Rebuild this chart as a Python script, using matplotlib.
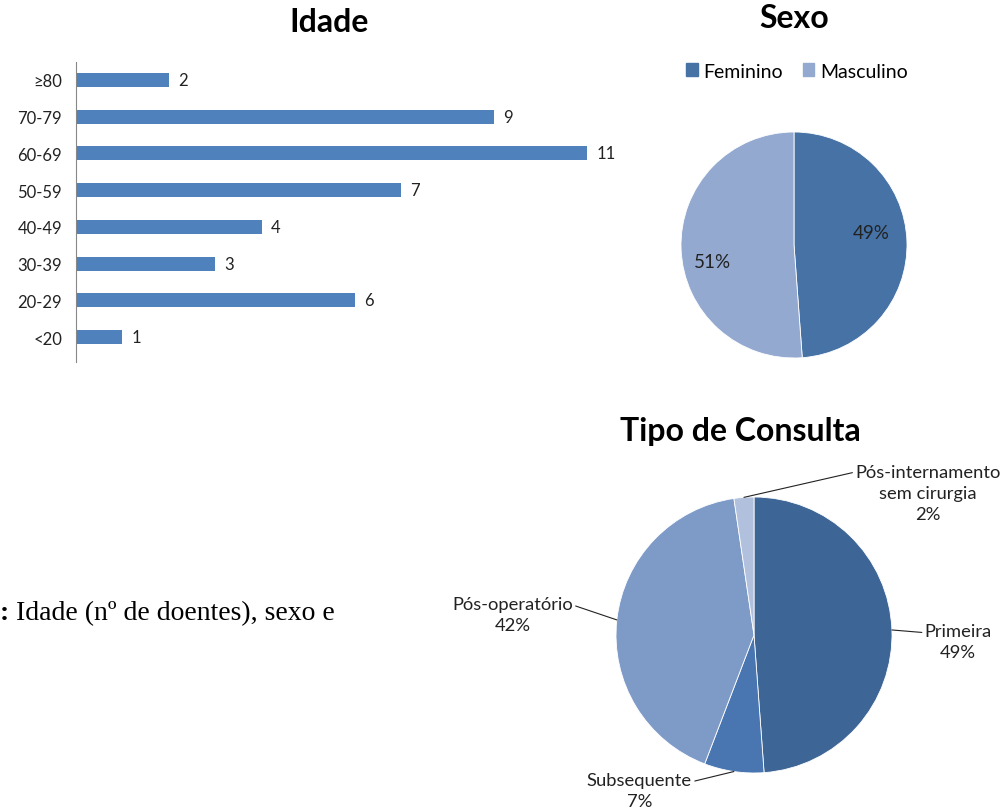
import numpy as np
import matplotlib
matplotlib.use("Agg")
import matplotlib.pyplot as plt
from matplotlib.patches import Patch

plt.rcParams['font.family'] = ['Lato', 'DejaVu Sans']

# Data ------------------------------------------------------------------
age_groups = ["<20", "20-29", "30-39", "40-49", "50-59", "60-69", "70-79", "≥80"]
age_counts = [1, 6, 3, 4, 7, 11, 9, 2]

sex_labels = ["Feminino", "Masculino"]
sex_counts = [21, 22]

visit_labels = ["Primeira", "Subsequente", "Pós-operatório", "Pós-internamento\nsem cirurgia"]
visit_counts = [21, 3, 18, 1]

W, H = 1008, 812


def px_axes(fig, x0, y0, x1, y1):
    # axes from pixel box (origin top-left)
    return fig.add_axes([x0 / W, (H - y1) / H, (x1 - x0) / W, (y1 - y0) / H])


fig = plt.figure(figsize=(W / 100, H / 100), dpi=100)

# Idade bar chart ---------------------------------------------------------
ax = px_axes(fig, 76, 63, 587, 363)
y = np.arange(len(age_groups))
ax.barh(y, age_counts, height=0.38, color="#4F81BD")
for yi, v in zip(y, age_counts):
    ax.text(v + 0.2, yi, str(v), va="center", ha="left", fontsize=12, color="#222222")
ax.set_xlim(0, 11)
ax.set_ylim(-0.68, 7.49)
ax.set_yticks(y)
ax.set_yticklabels(age_groups, fontsize=12, color="#222222")
ax.tick_params(axis="y", length=0, pad=10)
ax.set_xticks([])
for s in ["top", "right", "bottom"]:
    ax.spines[s].set_visible(False)
ax.spines["left"].set_color("#888888")
fig.text(329 / W, 1 - 22 / H, "Idade", ha="center", va="center", fontsize=23, fontweight="bold")

# Sexo pie ------------------------------------------------------------------
sex_colors = ["#4672A6", "#94A9D0"]
ax2 = px_axes(fig, 681, 133, 907, 359)
wedges, _, autotexts = ax2.pie(sex_counts, colors=sex_colors, startangle=90, counterclock=False,
                               autopct="%1.0f%%", pctdistance=0.7,
                               wedgeprops=dict(edgecolor="white", linewidth=0.6),
                               textprops=dict(fontsize=13.5, color="#222222"))
autotexts[0].set_position((0.68, 0.115))
autotexts[1].set_position((-0.72, -0.15))
ax2.set_xlim(-1, 1)
ax2.set_ylim(-1, 1)
fig.text(794 / W, 1 - 18 / H, "Sexo", ha="center", va="center", fontsize=23, fontweight="bold")
handles = [Patch(color=c, label=l) for c, l in zip(sex_colors, sex_labels)]
fig.legend(handles=handles, loc="center", bbox_to_anchor=(797 / W, 1 - 72 / H), ncol=2,
           frameon=False, fontsize=14, handlelength=0.6, handleheight=0.6,
           handletextpad=0.3, columnspacing=1.0)

# Tipo de Consulta pie --------------------------------------------------------
visit_colors = ["#3D6596", "#4976B0", "#7E9BC8", "#B1C1DD"]
ax3 = px_axes(fig, 616, 498, 892, 774)
wedges3, _ = ax3.pie(visit_counts, colors=visit_colors, startangle=90, counterclock=False,
                     wedgeprops=dict(edgecolor="white", linewidth=0.6))
ax3.set_xlim(-1, 1)
ax3.set_ylim(-1, 1)
total = sum(visit_counts)
label_pos = [(1.48, -0.05), (-0.83, -1.13), (-1.75, 0.15), (1.26, 1.03)]
rel = [(0.0, 0.75), (1.0, 0.75), (1.0, 0.75), (0.0, 0.86)]
for w, lab, n, pos, rp in zip(wedges3, visit_labels, visit_counts, label_pos, rel):
    ang = np.deg2rad((w.theta1 + w.theta2) / 2)
    edge = (np.cos(ang), np.sin(ang))
    ax3.annotate(f"{lab}\n{round(100 * n / total)}%", xy=edge, xytext=pos,
                 ha="center", va="center", fontsize=13.2, color="#222222", linespacing=1.38,
                 arrowprops=dict(arrowstyle="-", color="#222222", lw=0.8,
                                 shrinkA=0, shrinkB=0, relpos=rp))
fig.text(740 / W, 1 - 432 / H, "Tipo de Consulta", ha="center", va="center",
         fontsize=23, fontweight="bold")

# caption fragment
fig.text(0, 1 - 614 / H, ":", ha="left", va="center", fontsize=20, fontweight="bold",
         family="Liberation Serif")
fig.text(16 / W, 1 - 614 / H, "Idade (nº de doentes), sexo e", ha="left", va="center",
         fontsize=20, family="Liberation Serif")

fig.savefig("out.png", dpi=100)
